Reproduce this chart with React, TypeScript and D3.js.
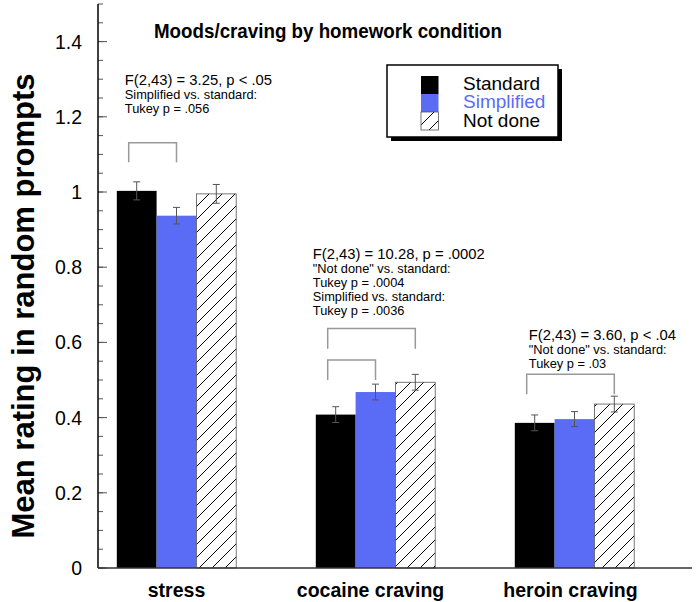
import React from "react";
import * as d3 from "d3";

const categories = ["stress", "cocaine craving", "heroin craving"];
const seriesNames = ["Standard", "Simplified", "Not done"];
const standardMeans = [1.003, 0.408, 0.386];
const simplifiedMeans = [0.937, 0.468, 0.396];
const notDoneMeans = [0.995, 0.494, 0.436];
const standardSE = [0.024, 0.021, 0.021];
const simplifiedSE = [0.022, 0.021, 0.02];
const notDoneSE = [0.025, 0.021, 0.021];
const yTickValues = [0, 0.2, 0.4, 0.6, 0.8, 1, 1.2, 1.4];
const yTickLabels = ["0", "0.2", "0.4", "0.6", "0.8", "1", "1.2", "1.4"];

const titleText = "Moods/craving by homework condition";
const yAxisTitle = "Mean rating in random prompts";

const stressNote = ["F(2,43) = 3.25, p < .05", "Simplified vs. standard:", "Tukey p = .056"];
const cocaineNote = [
  "F(2,43) = 10.28, p = .0002",
  "\"Not done\" vs. standard:",
  "Tukey p = .0004",
  "Simplified vs. standard:",
  "Tukey p = .0036",
];
const heroinNote = ["F(2,43) = 3.60, p < .04", "\"Not done\" vs. standard:", "Tukey p = .03"];
const noteLines = [stressNote, cocaineNote, heroinNote];
const noteValues = [1.285, 0.822, 0.607];

// brackets: category index, from series, to series, top value, leg-end value
const bracketCats = [0, 1, 1, 2];
const bracketFrom = [0, 0, 0, 0];
const bracketTo = [1, 2, 1, 2];
const bracketTop = [1.131, 0.637, 0.553, 0.515];
const bracketLeg = [1.079, 0.583, 0.5, 0.462];

const means = [standardMeans, simplifiedMeans, notDoneMeans];
const ses = [standardSE, simplifiedSE, notDoneSE];

const FONT = "'Liberation Sans', Arial, Helvetica, sans-serif";
const BLUE = "#5A6CF5";

export default function App() {
  const W = 696;
  const H = 602;
  const y = d3.scaleLinear().domain([0, 1.5]).range([568, 4]);
  const x = d3
    .scaleBand<string>()
    .domain(categories)
    .range([77, 674])
    .paddingInner(0.4)
    .paddingOuter(0.2);
  const xs = d3.scaleBand<string>().domain(seriesNames).range([0, x.bandwidth()]);
  const bw = xs.bandwidth();
  const fills = ["#000000", BLUE, "url(#hatch)"];
  const axisX = 98;
  const minor = d3.range(0, 1.5001, 0.05);

  const noteDx = [8, -3, 14];
  const labelDx = [0, -5, -4];

  return (
    <svg
      width={W}
      height={H}
      style={{ position: "absolute", left: 0, top: 0, background: "#fff" }}
      fontFamily={FONT}
    >
      <defs>
        <pattern id="hatch" patternUnits="userSpaceOnUse" width={13} height={13}>
          <rect width={13} height={13} fill="#fff" />
          <path
            d="M0,13 L13,0 M-3,3 L3,-3 M10,16 L16,10"
            stroke="#000"
            strokeWidth={1}
          />
        </pattern>
      </defs>

      {/* title */}
      <text
        x={154}
        y={38}
        fontSize={20.5}
        fontWeight="bold"
        fill="#000"
        textLength={348}
        lengthAdjust="spacingAndGlyphs"
      >
        {titleText}
      </text>

      {/* y axis title */}
      <text
        transform={`translate(34,${(y(0) + y(1.5)) / 2 + 20}) rotate(-90)`}
        textAnchor="middle"
        fontSize={31}
        fontWeight="bold"
        fill="#000"
      >
        {yAxisTitle}
      </text>

      {/* minor ticks */}
      {minor.map((v, i) => (
        <line
          key={"m" + i}
          x1={axisX}
          x2={axisX + 5}
          y1={y(v)}
          y2={y(v)}
          stroke="#555"
          strokeWidth={1}
        />
      ))}
      {/* major ticks + labels */}
      {yTickValues.map((v, i) => (
        <g key={"t" + i}>
          <line x1={axisX} x2={axisX + 9} y1={y(v)} y2={y(v)} stroke="#555" strokeWidth={1} />
          <text
            x={82}
            y={y(v)}
            dy="0.36em"
            textAnchor="end"
            fontSize={19.5}
            fill="#000"
          >
            {yTickLabels[i]}
          </text>
        </g>
      ))}

      {/* bars */}
      {categories.map((c, ci) =>
        seriesNames.map((s, si) => {
          const bx = (x(c) as number) + (xs(s) as number);
          const v = means[si][ci];
          return (
            <rect
              key={c + s}
              x={bx}
              y={y(v)}
              width={bw}
              height={y(0) - y(v)}
              fill={fills[si]}
              stroke={si === 2 ? "#555" : "none"}
              strokeWidth={si === 2 ? 0.8 : 0}
            />
          );
        })
      )}

      {/* error bars */}
      {categories.map((c, ci) =>
        seriesNames.map((s, si) => {
          const cx = (x(c) as number) + (xs(s) as number) + bw / 2;
          const v = means[si][ci];
          const e = ses[si][ci];
          return (
            <g key={"e" + c + s} stroke="#555" strokeWidth={1}>
              <line x1={cx} x2={cx} y1={y(v + e)} y2={y(v - e)} />
              <line x1={cx - 3.5} x2={cx + 3.5} y1={y(v + e)} y2={y(v + e)} />
              <line x1={cx - 3.5} x2={cx + 3.5} y1={y(v - e)} y2={y(v - e)} />
            </g>
          );
        })
      )}

      {/* significance brackets */}
      {bracketCats.map((ci, i) => {
        const c = categories[ci];
        const x1 = (x(c) as number) + (xs(seriesNames[bracketFrom[i]]) as number) + bw / 2 - 8;
        const x2 = (x(c) as number) + (xs(seriesNames[bracketTo[i]]) as number) + bw / 2;
        const yt = y(bracketTop[i]);
        const yl = y(bracketLeg[i]);
        return (
          <path
            key={"b" + i}
            d={`M${x1},${yl} L${x1},${yt} L${x2},${yt} L${x2},${yl}`}
            fill="none"
            stroke="#999"
            strokeWidth={1.5}
          />
        );
      })}

      {/* notes */}
      {noteLines.map((lines, ci) => {
        const tx = (x(categories[ci]) as number) + noteDx[ci];
        const ty = y(noteValues[ci]);
        return (
          <text key={"n" + ci} fill="#000">
            {lines.map((l, li) => (
              <tspan
                key={li}
                x={tx}
                y={li === 0 ? ty : ty + 14.5 + (li - 1) * 14}
                fontSize={li === 0 ? 14.8 : 12.8}
              >
                {l}
              </tspan>
            ))}
          </text>
        );
      })}

      {/* axes */}
      <line x1={axisX} x2={axisX} y1={y(1.5)} y2={y(0)} stroke="#000" strokeWidth={1.5} />
      <line x1={axisX} x2={692} y1={y(0)} y2={y(0)} stroke="#333" strokeWidth={1.5} />

      {/* category labels */}
      {categories.map((c, ci) => (
        <text
          key={"c" + c}
          x={(x(c) as number) + x.bandwidth() / 2 + labelDx[ci]}
          y={597}
          textAnchor="middle"
          fontSize={19.5}
          fontWeight="bold"
          fill="#000"
        >
          {c}
        </text>
      ))}

      {/* legend */}
      <g>
        <rect x={391} y={69} width={171} height={72} fill="#000" />
        <rect x={387} y={65} width={171} height={72} fill="#fff" stroke="#000" strokeWidth={1.5} />
        {seriesNames.map((s, si) => (
          <g key={"l" + s}>
            <rect
              x={421}
              y={76 + si * 18}
              width={17.5}
              height={18}
              fill={fills[si]}
              stroke={si === 2 ? "#555" : "none"}
              strokeWidth={si === 2 ? 0.8 : 0}
            />
            <text
              x={463}
              y={90 + si * 18.3}
              fontSize={19}
              fill={si === 1 ? BLUE : "#000"}
            >
              {s}
            </text>
          </g>
        ))}
      </g>
    </svg>
  );
}
